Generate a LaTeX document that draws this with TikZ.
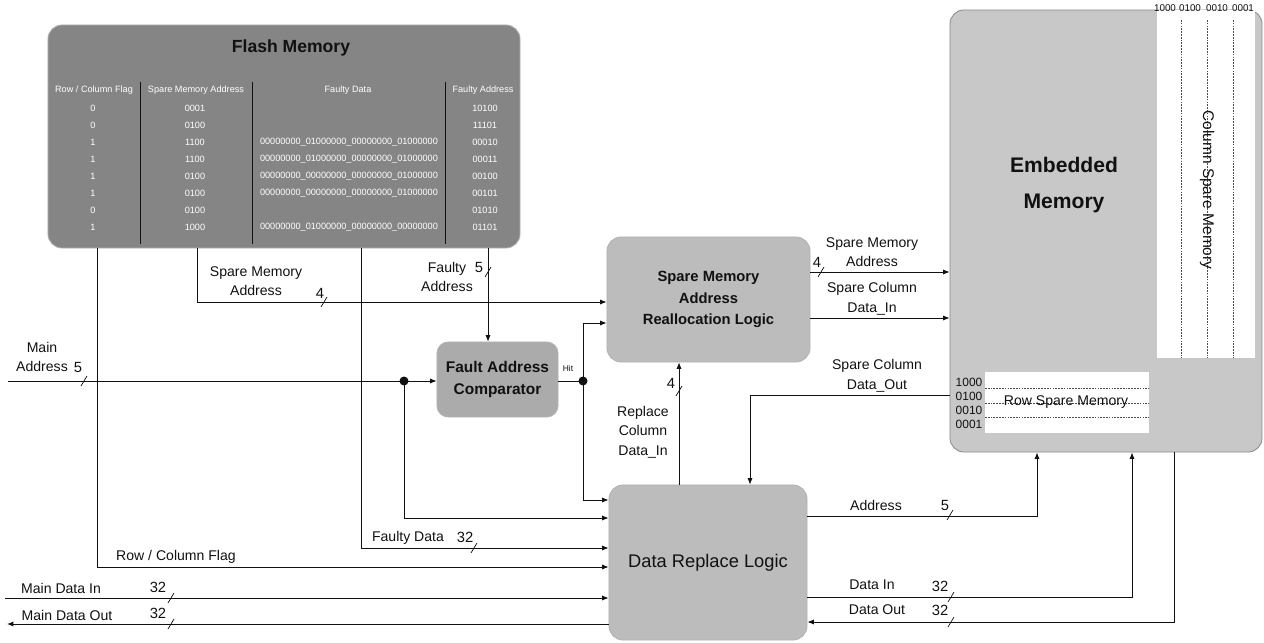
\documentclass[tikz,border=0pt]{standalone}
\usepackage{fontspec}
\setmainfont{Liberation Sans}
\usetikzlibrary{arrows.meta,calc,positioning}
\definecolor{FlashGray}{HTML}{858585}
\definecolor{EmbGray}{HTML}{C8C8C8}
\definecolor{LogicGray}{HTML}{BCBCBC}
\definecolor{CompGray}{HTML}{ABABAB}
\definecolor{Ink}{HTML}{111111}

\begin{document}
\begin{tikzpicture}[x=0.025cm,y=-0.025cm,every node/.style={font=\fontsize{10}{13.8}\selectfont,text=Ink,inner sep=0pt},
    blk/.style={draw=black!30,line width=0.6pt,rounded corners=10pt},
    wire/.style={draw=Ink,line width=0.6pt},
    sig/.style={wire,-{Latex[length=4.5pt,width=3.6pt]}},
    busmark/.style={draw=Ink,line width=0.5pt},
    buswidth/.style={font=\fontsize{10.5}{12}\selectfont},
    tbl/.style={font=\fontsize{6.5}{8}\selectfont,text=white},
    cell/.style={draw=black!70,line width=0.4pt,dash pattern=on 1.2pt off 0.8pt}]
  \useasboundingbox (0,0) rectangle (1264,643);

  % blocks
  \node[blk,fill=FlashGray,minimum width=11.8cm,minimum height=5.575cm] (flash) at (284,136.5) {};
  \node[blk,draw=black!45,fill=EmbGray,minimum width=7.8cm,minimum height=11.05cm] (emb) at (1106,231) {};
  \node[blk,fill=LogicGray,minimum width=5.075cm,minimum height=3.125cm,align=center,font=\fontsize{10.5}{15.5}\selectfont\bfseries] (smarl) at (708.5,299.5) {Spare Memory\\Address\\Reallocation Logic};
  \node[blk,rounded corners=8pt,fill=CompGray,minimum width=3.025cm,minimum height=1.875cm,align=center,font=\fontsize{11}{16}\selectfont\bfseries] (fac) at (497.5,379.5) {Fault Address\\Comparator};
  \node[blk,fill=LogicGray,minimum width=4.95cm,minimum height=3.875cm,font=\fontsize{13}{15}\selectfont] (drl) at (708,562.5) {Data Replace Logic};

  % flash memory table
  \node[font=\fontsize{12.5}{14}\selectfont\bfseries] (flashtitle) at (291,48) {Flash Memory};
  \foreach \cx in {140,252,445} \draw[Ink,line width=0.6pt] (\cx,82) -- (\cx,244);
  \node[tbl] (hflag) at (94,90) {Row / Column Flag};
  \node[tbl] (hspare) at (196,90) {Spare Memory Address};
  \node[tbl] (hdata) at (348,90) {Faulty Data};
  \node[tbl] (hfadr) at (483,90) {Faulty Address};
  \foreach \fl/\sa/\fd/\fa [count=\r] in {0/0001//10100, 0/0100//11101,
      1/1100/00000000\_01000000\_00000000\_01000000/00010,
      1/1100/00000000\_01000000\_00000000\_01000000/00011,
      1/0100/00000000\_00000000\_00000000\_01000000/00100,
      1/0100/00000000\_00000000\_00000000\_01000000/00101,
      0/0100//01010,
      1/1000/00000000\_01000000\_00000000\_00000000/01101}{
    \node[tbl] (flag\r) at (93,91+17*\r) {\fl};
    \node[tbl] (spare\r) at (195,91+17*\r) {\sa};
    \node[tbl] (data\r) at (349,91+17*\r) {\fd};
    \node[tbl] (fadr\r) at (485,91+17*\r) {\fa};
  }

  % embedded memory
  \fill[white] (1157,10) rectangle (1255,358);
  \foreach \cx in {1181,1207,1233} \draw[cell] (\cx,20) -- (\cx,358);
  \foreach \lb/\cx [count=\i] in {1000/1165,0100/1190,0010/1217,0001/1243}
    \node[font=\fontsize{7}{8}\selectfont] (csm\i) at (\cx,8) {\lb};
  \node[rotate=-90,font=\fontsize{11}{12}\selectfont] (csmlabel) at (1207,190) {Column Spare Memory};
  \fill[white] (985,372) rectangle (1149,433);
  \foreach \ry in {388,403,417} \draw[cell] (985,\ry) -- (1149,\ry);
  \foreach \lb/\ry [count=\i] in {1000/382,0100/396,0010/410,0001/424}
    \node[font=\fontsize{8.5}{9}\selectfont] (rsm\i) at (969,\ry) {\lb};
  \node (rsmlabel) at (1066,402) {Row Spare Memory};
  \node[font=\fontsize{15}{25}\selectfont\bfseries,align=center] (embtitle) at (1064,185) {Embedded\\Memory};

  % wires
  \coordinate (rcflag) at (flash.south -| 97,0);
  \coordinate (smaddr) at (flash.south -| 197,0);
  \coordinate (fdata) at (flash.south -| 361,0);
  \coordinate (fadr) at (flash.south -| 488,0);
  \coordinate (mainaddr) at (8,381);
  \coordinate (maindin) at (5,598);
  \coordinate (maindout) at (7,624);
  \coordinate (jaddr) at (404,381);
  \coordinate (jhit) at (583,381);

  \draw[sig] (rcflag) |- (drl.west |- 0,567);
  \draw[sig] (smaddr) |- (smarl.west |- 0,302);
  \draw[sig] (fdata) |- (drl.west |- 0,548);
  \draw[sig] (fadr) -- (fac.north -| fadr);
  \draw[sig] (mainaddr) -- (fac.west |- mainaddr);
  \draw[sig] (jaddr) |- (drl.west |- 0,518);
  \draw[wire] (fac.east |- jhit) -- (jhit);
  \draw[sig] (jhit) |- (smarl.west |- 0,323);
  \draw[sig] (jhit) |- (drl.west |- 0,500);
  \fill[Ink] (jaddr) circle (3.2pt) (jhit) circle (3.2pt);
  \draw[sig] (drl.north -| 679,0) -- (smarl.south -| 679,0);
  \draw[sig] (smarl.east |- 0,272) -- (emb.west |- 0,272);
  \draw[sig] (smarl.east |- 0,318) -- (emb.west |- 0,318);
  \draw[sig] (emb.west |- 0,395) -| (drl.north -| 750,0);
  \draw[sig] (drl.east |- 0,516) -| (emb.south -| 1037,0);
  \draw[sig] (drl.east |- 0,597) -| (emb.south -| 1132,0);
  \draw[sig] (emb.south -| 1174,0) |- (drl.east |- 0,622);
  \draw[sig] (maindin) -- (drl.west |- maindin);
  \draw[sig] (drl.west |- maindout) -- (maindout);

  % labels
  \node[align=center] (lmainaddr) at (42,357) {Main\\Address};
  \node[align=center] (lsmaddr) at (256,281) {Spare Memory\\Address};
  \node[align=center] (lfadr) at (447,277) {Faulty\\Address};
  \node[font=\fontsize{6}{7}\selectfont] (lhit) at (568,368) {Hit};
  \node[align=center] (lsmout) at (872,252) {Spare Memory\\Address};
  \node[align=center] (lscdin) at (872,299) {Spare Column\\Data\_In};
  \node[align=center] (lscdout) at (877,376) {Spare Column\\Data\_Out};
  \node[align=center] (lrcd) at (643,432) {Replace\\Column\\Data\_In};
  \node (lfdata) at (408,538) {Faulty Data};
  \node (lrcflag) at (176,557) {Row / Column Flag};
  \node (lmdin) at (61,588) {Main Data In};
  \node (lmdout) at (67,615) {Main Data Out};
  \node (laddr) at (876,505) {Address};
  \node (ldin) at (872,585) {Data In};
  \node (ldout) at (877,610) {Data Out};

  % bus widths
  \foreach \bx/\by/\bw/\lx/\ly [count=\i] in {84/381/5/78/367, 324/302/4/320/293, 488/272/5/479/267,
      821/272/4/817/262, 679/391/4/671/383, 474/548/32/465/537, 171/598/32/158/587,
      171/624/32/158/613, 950/515/5/945/505, 951/597/32/940/586, 951/622/32/940/610}{
    \draw[busmark] (\bx-3,\by+5) -- (\bx+3,\by-5);
    \node[buswidth] (bw\i) at (\lx,\ly) {\bw};
  }
\end{tikzpicture}
\end{document}
